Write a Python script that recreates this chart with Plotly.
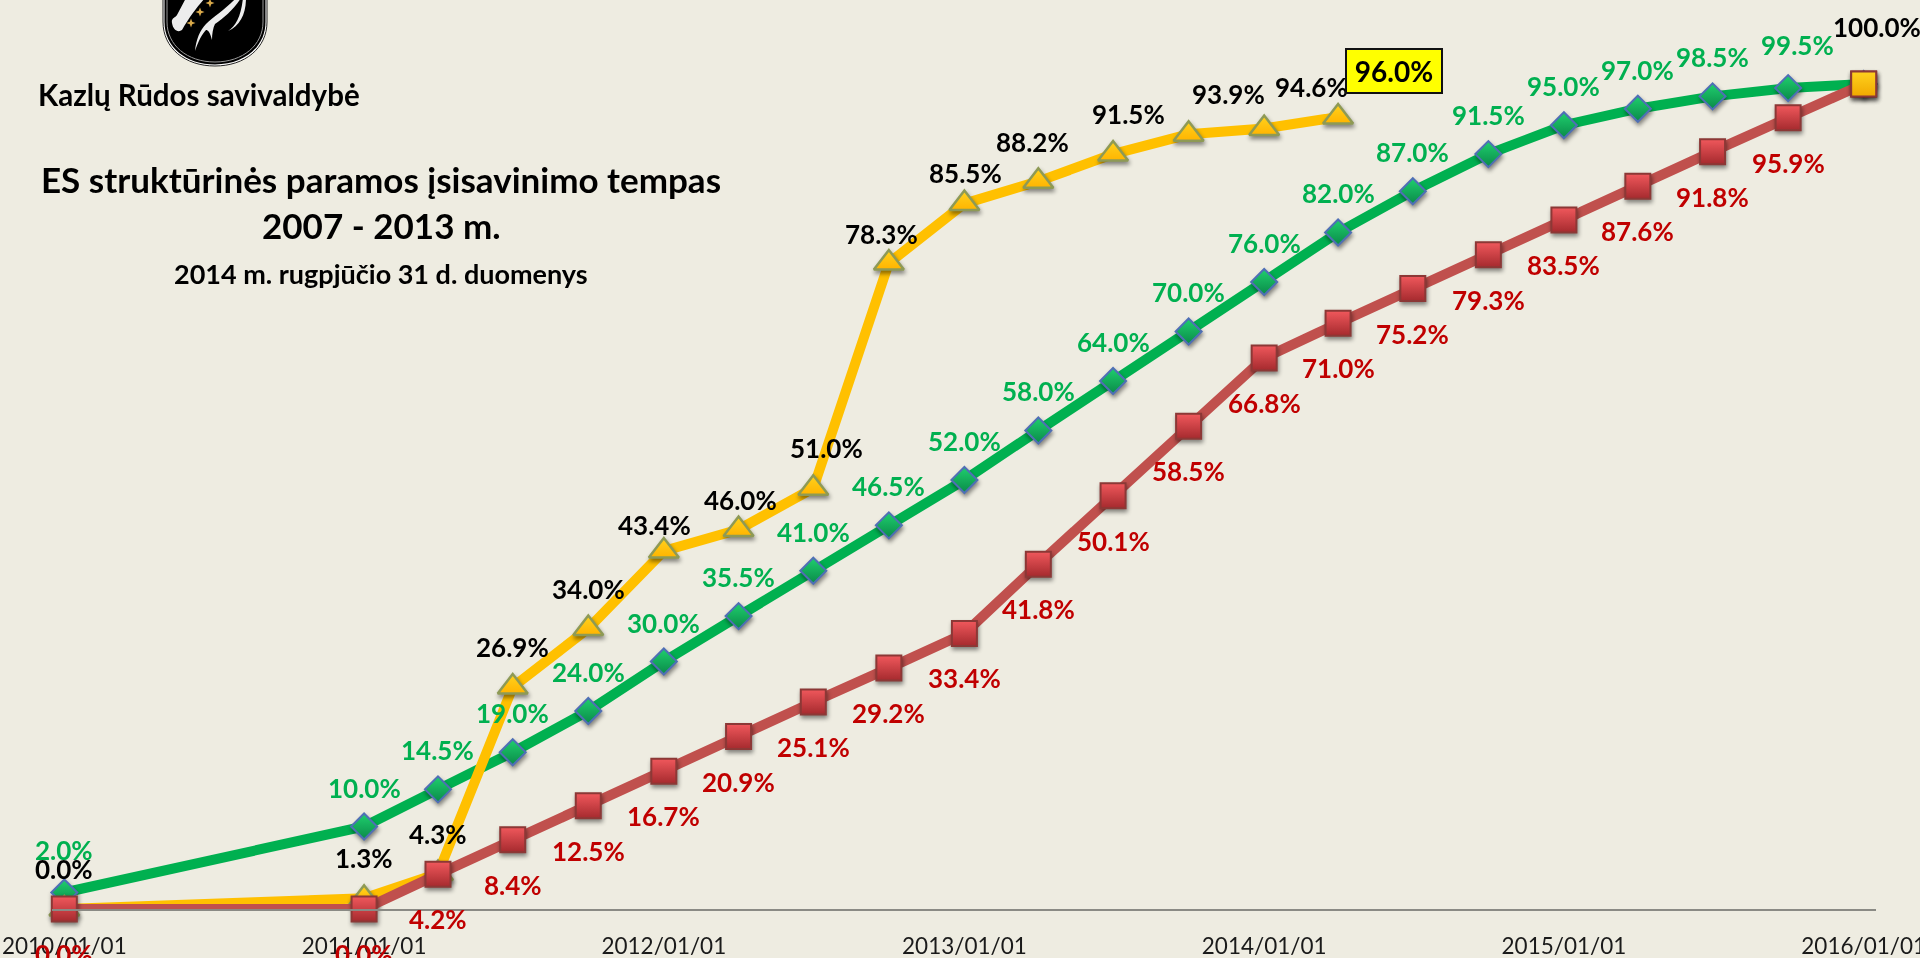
import plotly.graph_objects as go

BG = "#EEECE1"
WIDTH, HEIGHT = 1920, 958
ML, MR, MT, MB = 52, 44, 0, 49

dates = ["2010-01-01", "2011-01-01", "2011-04-01", "2011-07-01", "2011-10-01",
         "2012-01-01", "2012-04-01", "2012-07-01", "2012-10-01",
         "2013-01-01", "2013-04-01", "2013-07-01", "2013-10-01",
         "2014-01-01", "2014-04-01", "2014-07-01", "2014-10-01",
         "2015-01-01", "2015-04-01", "2015-07-01", "2015-10-01", "2016-01-01"]
planned = [2.0, 10.0, 14.5, 19.0, 24.0, 30.0, 35.5, 41.0, 46.5, 52.0, 58.0, 64.0, 70.0, 76.0,
           82.0, 87.0, 91.5, 95.0, 97.0, 98.5, 99.5, 100.0]
actual = [0.0, 1.3, 4.3, 26.9, 34.0, 43.4, 46.0, 51.0, 78.3, 85.5, 88.2, 91.5, 93.9, 94.6, 96.0]
minimum = [0.0, 0.0, 4.2, 8.4, 12.5, 16.7, 20.9, 25.1, 29.2, 33.4, 41.8, 50.1, 58.5, 66.8, 71.0,
           75.2, 79.3, 83.5, 87.6, 91.8, 95.9, 100.0]
final_date = ["2016-01-01"]
final_value = [100.0]

# label placement offsets (x, y in px relative to the point; + y = up)
planned_offsets = {0: (0, 43), 20: (9, 43)}
actual_offsets = {5: (-9, 26), 6: (2, 29), 7: (13, 40), 8: (-7, 29), 9: (1, 31), 10: (-6, 39),
                  11: (15, 40), 12: (40, 40), 13: (47, 42)}

fig = go.Figure()
fig.add_trace(go.Scatter(x=dates, y=planned, mode="lines+markers", name="planned",
    line=dict(color="#00B050", width=10),
    marker=dict(symbol="diamond", size=20, color="#1FCF6E",
                gradient=dict(type="vertical", color="#0A8A48"),
                line=dict(color="#4F6FB5", width=2))))
fig.add_trace(go.Scatter(x=dates[:len(actual)], y=actual, mode="lines+markers", name="actual",
    line=dict(color="#FFC000", width=10),
    marker=dict(symbol="triangle-up", size=26, color="#FFD21E",
                gradient=dict(type="vertical", color="#FFB400"),
                line=dict(color="#8E9A55", width=2.5))))
fig.add_trace(go.Scatter(x=dates, y=minimum, mode="lines+markers", name="minimum",
    line=dict(color="#C0504D", width=10),
    marker=dict(symbol="square", size=25, color="#F0585C",
                gradient=dict(type="vertical", color="#A52A2E"),
                line=dict(color="#8C3836", width=2))))
fig.add_trace(go.Scatter(x=final_date, y=final_value, mode="markers", name="final",
    marker=dict(symbol="square", size=25, color="#FFD21E",
                gradient=dict(type="vertical", color="#F0A800"),
                line=dict(color="#8C3836", width=2))))

LABEL_FONT = "Lato"
LABEL_SIZE = 26
annotations = []


def label(x, y, text, color, dx, dy):
    annotations.append(dict(x=x, y=y, xref="x", yref="y", text=f"<b>{text}</b>", showarrow=False,
                            xshift=dx, yshift=dy, xanchor="center", yanchor="middle",
                            font=dict(family=LABEL_FONT, size=LABEL_SIZE, color=color)))


for i, v in enumerate(planned[:-1]):
    dx, dy = planned_offsets.get(i, (0, 39))
    label(dates[i], v, f"{v:.1f}%", "#00B050", dx, dy)
for i, v in enumerate(actual[:-1]):
    dx, dy = actual_offsets.get(i, (0, 40))
    label(dates[i], v, f"{v:.1f}%", "#000000", dx, dy)
for i, v in enumerate(minimum[:-1]):
    label(dates[i], v, f"{v:.1f}%", "#C00000", 0, -45)
label(final_date[0], final_value[0], f"{final_value[0]:.1f}%", "#000000", 13, 57)
annotations.append(dict(x=dates[len(actual) - 1], y=actual[-1], xref="x", yref="y",
                        text=f"<b>{actual[-1]:.1f}%</b>", showarrow=False, xshift=56, yshift=46,
                        width=94, height=42, align="center", valign="middle",
                        bgcolor="#FFFF00", bordercolor="#111111", borderwidth=2, borderpad=0,
                        font=dict(family=LABEL_FONT, size=28, color="#000000")))


def px(x):
    return (x - ML) / (WIDTH - ML - MR)


def py(y):
    return 1 - (y - MT) / (HEIGHT - MT - MB)


def title(text, cx, cy, size):
    annotations.append(dict(x=px(cx), y=py(cy), xref="paper", yref="paper", text=f"<b>{text}</b>",
                            showarrow=False, xanchor="center", yanchor="middle",
                            font=dict(family="Lato", size=size, color="#000000")))


title("Kazlų Rūdos savivaldybė", 199, 94, 29.5)
title("ES struktūrinės paramos įsisavinimo tempas", 381, 179, 35)
title("2007 - 2013 m.", 381, 225, 35)
title("2014 m. rugpjūčio 31 d. duomenys", 381, 274, 27)


def svg(d):
    """Build an SVG path from tokens; numbers come in page-pixel x,y pairs."""
    out, pair = [], []
    for tok in d.split():
        if tok.isalpha():
            out.append(tok)
        else:
            pair.append(float(tok))
            if len(pair) == 2:
                out.append(f"{px(pair[0]):.5f},{py(pair[1]):.5f}")
                pair = []
    return " ".join(out)


def emblem(d, fill, color=None, width=0):
    return dict(type="path", xref="paper", yref="paper", layer="above", path=svg(d),
                fillcolor=fill, line=dict(color=color or fill, width=width))


shapes = [
    emblem("M 163 -2 L 267 -2 L 267 22 C 267 48 245 66 215 66 C 185 66 163 48 163 22 Z",
           "#FFFFFF", "#222222", 1),
    emblem("M 164.5 -2 L 265.5 -2 L 265.5 22 C 265.5 47 244 64.5 215 64.5 C 186 64.5 164.5 47 164.5 22 Z",
           "#000000"),
    emblem("M 167 -2 L 263 -2 L 263 22 C 263 45 243 62 215 62 C 187 62 167 45 167 22 Z",
           "#000000", "#9A9A9A", 1),
    emblem("M 186 -2 L 205 -2 C 198 6 190 16 182 30 C 178 33 173 30 172 23 C 171 18 175 18 177 15 Z",
           "#EDEDED"),
    emblem("M 195 51 C 196 40 200 30 206 24 C 214 16 226 9 236 -2 L 241 -2 C 234 9 224 18 215 24 "
           "C 213 28 212 34 212 40 C 210 32 208 30 206 30 C 202 34 198 42 195 51 Z", "#EDEDED"),
    emblem("M 228 31 C 236 26 241 16 243 -2 L 246 -2 C 246 14 240 26 228 31 Z", "#EDEDED"),
]
for cx, cy in [(191, 23), (200, 12), (210, 3)]:
    shapes.append(emblem(
        f"M {cx} {cy - 4.5} L {cx + 1.2} {cy - 1.2} L {cx + 4.5} {cy} L {cx + 1.2} {cy + 1.2} "
        f"L {cx} {cy + 4.5} L {cx - 1.2} {cy + 1.2} L {cx - 4.5} {cy} L {cx - 1.2} {cy - 1.2} Z",
        "#D9A94A"))

fig.update_layout(
    width=WIDTH, height=HEIGHT, paper_bgcolor=BG, plot_bgcolor=BG, showlegend=False,
    margin=dict(l=ML, r=MR, t=MT, b=MB, autoexpand=False),
    annotations=annotations, shapes=shapes,
    xaxis=dict(type="date", range=["2009-12-17", "2016-01-16"], tick0="2010-01-01", dtick="M12",
               tickformat="%Y/%m/%d", showgrid=False, zeroline=False, showline=True,
               linecolor="#8A8A84", linewidth=2, ticks="", ticklabelstandoff=16,
               ticklabeloverflow="allow", automargin=False,
               tickfont=dict(family="Lato", size=22.5, color="#1A1A1A")),
    yaxis=dict(range=[0, 110.18], visible=False, showgrid=False, zeroline=False),
)
for tr in fig.data:
    tr.cliponaxis = False

fig.write_html("out.html", config={"displayModeBar": False}, post_script=(
    "document.body.style.margin='0';document.body.style.overflow='hidden';"
    f"document.body.style.background='{BG}';"
    "document.querySelectorAll('.scatterlayer .points').forEach(function(g){"
    "g.style.filter='drop-shadow(1px 3px 2px rgba(0,0,0,0.45))';});"))
